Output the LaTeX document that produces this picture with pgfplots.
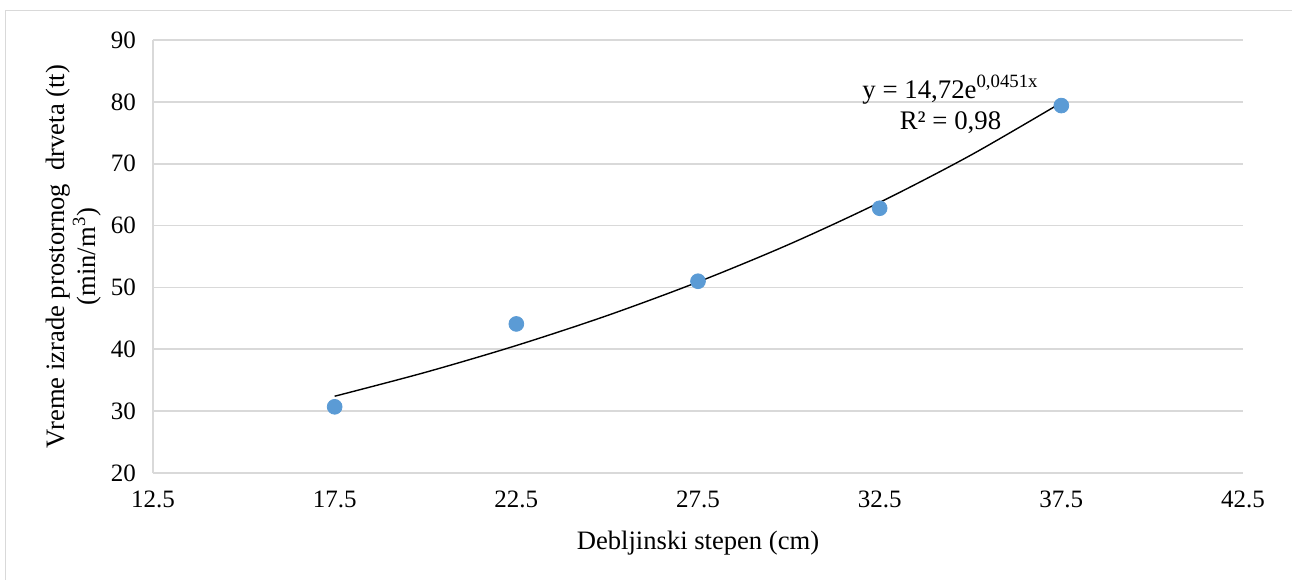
\documentclass[border=0pt]{standalone}
\usepackage{pgfplots}
\pgfplotsset{compat=1.18}
\usepackage{fontspec}
\setmainfont{Liberation Serif}
\definecolor{ptblue}{HTML}{5B9BD5}
\definecolor{gridgray}{HTML}{D9D9D9}
\begin{document}
\begin{tikzpicture}
\path[use as bounding box] (-76.5pt,-53pt) rectangle (569.5pt,236.5pt);
\draw[gridgray, line width=0.8pt] (-73.75pt,-60pt) -- (-73.75pt,231.25pt) -- (600pt,231.25pt);
\begin{axis}[
  name=ax,
  at={(0,0)}, anchor=south west,
  scale only axis,
  width=545pt, height=216.5pt,
  xmin=12.5, xmax=42.5, ymin=20, ymax=90,
  xtick={12.5,17.5,22.5,27.5,32.5,37.5,42.5},
  xticklabels={12.5,17.5,22.5,27.5,32.5,37.5,42.5},
  ytick={20,30,40,50,60,70,80,90},
  yticklabels={20,30,40,50,60,70,80,90},
  ymajorgrids, major grid style={gridgray, line width=0.8pt},
  axis line style={gridgray, line width=0.8pt},
  axis x line*=bottom, axis y line*=left,
  x axis line style={-}, y axis line style={-},
  major tick length=0pt,
  tick label style={font=\fontsize{12.5}{14}\selectfont},
  xticklabel style={yshift=-5.5pt},
  yticklabel style={xshift=-5pt},
  xlabel={Debljinski stepen (cm)},
  xlabel style={font=\fontsize{13.3}{15}\selectfont, yshift=-4.5pt},
  ylabel={Vreme izrade prostornog\ \ drveta (tt)\\(min/m\textsuperscript{3})},
  ylabel style={font=\fontsize{13.3}{15.5}\selectfont, align=center, yshift=-2pt},
  clip=false,
]
\addplot[black, line width=0.7pt, smooth] coordinates {
  (17.5,32.41) (20,36.28) (22.5,40.61) (25,45.45) (27.5,50.88)
  (30,56.95) (32.5,63.75) (35,71.36) (37.5,79.87)
};
\addplot[only marks, mark=*, mark size=3.7pt, mark options={fill=ptblue, draw=ptblue}] coordinates {
  (17.5,30.7) (22.5,44.1) (27.5,51.0) (32.5,62.8) (37.5,79.4)
};
\node[align=center, font=\fontsize{13.4}{15.5}\selectfont] at (axis cs:34.45,79.6)
  {y = 14,72e\textsuperscript{0,0451x}\\R² = 0,98};
\end{axis}
\end{tikzpicture}
\end{document}
